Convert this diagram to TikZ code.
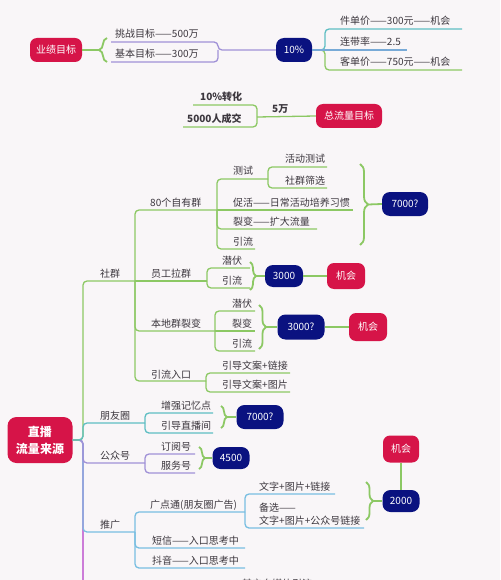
\documentclass[tikz,border=0pt]{standalone}
\usepackage{fontspec}
\setmainfont{Noto Sans CJK SC}
\usetikzlibrary{decorations.pathreplacing}
\definecolor{bg}{RGB}{249,246,248}
\definecolor{crim}{RGB}{214,20,72}
\definecolor{navyc}{RGB}{10,18,128}
\definecolor{lgreen}{RGB}{140,200,100}
\definecolor{lav}{RGB}{160,145,215}
\definecolor{tealc}{RGB}{95,190,195}
\definecolor{bluec}{RGB}{120,170,215}
\definecolor{skyc}{RGB}{120,190,225}
\definecolor{magc}{RGB}{180,60,200}
\definecolor{txt}{RGB}{60,55,62}
\begin{document}
\begin{tikzpicture}[x=1pt,y=-1pt,
  lbl/.style={anchor=base west, inner sep=0pt, text=txt, font=\fontsize{10}{12}\selectfont},
  blbl/.style={lbl, font=\fontsize{10}{12}\selectfont\bfseries},
  rbox/.style={fill=crim, text=white, rounded corners=7pt, inner sep=0pt, font=\fontsize{10}{12}\selectfont},
  nbox/.style={fill=navyc, text=white, rounded corners=8pt, inner sep=0pt, font=\fontsize{10}{12}\selectfont},
  ln/.style={line width=1.3pt, rounded corners=4pt},
  gl/.style={line width=1.8pt, lgreen},
  br/.style={line width=1.8pt, lgreen, decorate, decoration={brace, amplitude=#1}},
  br/.default=7pt]
\useasboundingbox (0,0) rectangle (500,580);
\fill[bg] (0,0) rectangle (500,580);
\clip (0,0) rectangle (500,580);

% ---------- top: 业绩目标 ----------
\node[rbox, minimum width=52pt, minimum height=24pt] (yj) at (56,50) {业绩目标};
\node[nbox, minimum width=36pt, minimum height=24pt] (p10) at (294,50) {10\%};
\node[lbl] (t1) at (115,38) {挑战目标——500万};
\node[lbl] (t2) at (115,58) {基本目标——300万};
\draw[br=8pt] (107,62) -- (107,38);
\draw[gl] (yj.east) -- (99,50);
\draw[ln, lav] (111,42) -- (218,42) -- (218,50) -- (p10.west);
\draw[ln, lav] (111,62) -- (218,62) -- (218,50);

\node[lbl] (t3) at (340,25) {件单价——300元——机会};
\node[lbl] (t4) at (340,46) {连带率——2.5};
\node[lbl] (t5) at (340,66) {客单价——750元——机会};
\draw[ln, tealc] (p10.east) -- (325,50) -- (325,29) -- (462,29);
\draw[ln, lgreen] (p10.east) -- (325,50) -- (325,70) -- (462,70);
\draw[ln, bluec] (p10.east) -- (407,50);

% ---------- 总流量目标 ----------
\node[rbox, minimum width=66pt, minimum height=24pt] (zl) at (349,116) {总流量目标};
\node[blbl] (t6) at (200,101) {10\%转化};
\node[blbl] (t7) at (187,123) {5000人成交};
\node[blbl] (t8) at (272,113) {5万};
\draw[ln, lgreen] (193,105) -- (257,105) -- (257,127) -- (183,127);
\draw[ln, lgreen] (257,117) -- (zl.west);

% ---------- root ----------
\node[fill=crim, text=white, rounded corners=9pt, inner sep=0pt, minimum width=65pt, minimum height=46pt,
      align=center, font=\fontsize{12}{17}\selectfont\bfseries] (root) at (40,440) {直播\\流量来源};

\draw[ln, magc] (root.east) -- (83,440) -- (83,600);
\draw[ln, skyc] (root.east) -- (83,440) -- (83,532) -- (135,532);
\draw[ln, lav] (root.east) -- (83,440) -- (83,463) -- (145,463);
\draw[ln, lgreen] (root.east) -- (83,440) -- (83,281) -- (135,281);
\draw[ln, tealc] (root.east) -- (83,440) -- (83,423) -- (145,423);

% ---------- 社群 ----------
\node[lbl] (sq) at (100,277) {社群};
\draw[ln, lgreen] (135,281) -- (135,210) -- (217,210);
\draw[ln, lgreen] (135,281) -- (207,281);
\draw[ln, lgreen] (135,281) -- (135,331) -- (215,331);
\draw[ln, lgreen] (135,281) -- (135,381) -- (206,381);

% 80个自有群
\node[lbl] (zy) at (150,206) {80个自有群};
\node[lbl] (cs) at (233,175) {测试};
\node[lbl] (hd) at (285,163) {活动测试};
\node[lbl] (sx) at (285,184) {社群筛选};
\node[lbl] (ch) at (233,206) {促活——日常活动培养习惯};
\node[lbl] (lb) at (233,225) {裂变——扩大流量};
\node[lbl] (yl1) at (233,245) {引流};
\draw[ln, lgreen] (217,210) -- (217,179) -- (268,179);
\draw[ln, lgreen] (268,179) -- (268,167) -- (327,167);
\draw[ln, lgreen] (268,179) -- (268,188) -- (327,188);
\draw[ln, lgreen] (217,210) -- (353,210);
\draw[ln, lgreen] (217,210) -- (217,229) -- (317,229);
\draw[ln, lgreen] (217,210) -- (217,249) -- (255,249);
\node[nbox, minimum width=46pt, minimum height=24pt] (n7000a) at (405,204) {7000?};
\draw[br=8pt] (360,164) -- (360,245);
\draw[gl] (368,204.5) -- (n7000a.west);

% 员工拉群
\node[lbl] (yg) at (151,277) {员工拉群};
\node[lbl] (qf1) at (222,264) {潜伏};
\node[lbl] (yl2) at (222,284) {引流};
\draw[ln, lgreen] (207,281) -- (207,268) -- (250,268);
\draw[ln, lgreen] (207,281) -- (207,288) -- (250,288);
\node[nbox, minimum width=38pt, minimum height=22pt] (n3000) at (284,276) {3000};
\node[rbox, minimum width=38pt, minimum height=26pt] (jh1) at (346,276) {机会};
\draw[br=6pt] (250,262) -- (250,290);
\draw[gl] (256,276) -- (n3000.west);
\draw[gl] (n3000.east) -- (jh1.west);

% 本地群裂变
\node[lbl] (bd) at (151,327) {本地群裂变};
\node[lbl] (qf2) at (232,307) {潜伏};
\node[lbl] (lb2) at (232,327) {裂变};
\node[lbl] (yl3) at (232,347) {引流};
\draw[ln, lgreen] (215,331) -- (215,311) -- (255,311);
\draw[ln, lgreen] (215,331) -- (255,331);
\draw[ln, lgreen] (215,331) -- (215,351) -- (255,351);
\node[nbox, minimum width=47pt, minimum height=25pt] (n3000q) at (301,327) {3000?};
\node[rbox, minimum width=38pt, minimum height=28pt] (jh2) at (368,327) {机会};
\draw[br=7pt] (259,305) -- (259,349);
\draw[gl] (266,327) -- (n3000q.west);
\draw[gl] (n3000q.east) -- (jh2.west);

% 引流入口
\node[lbl] (rk) at (151,378) {引流入口};
\node[lbl] (yd1) at (222,369) {引导文案+链接};
\node[lbl] (yd2) at (222,388) {引导文案+图片};
\draw[ln, lgreen] (206,381) -- (206,373) -- (290,373);
\draw[ln, lgreen] (206,381) -- (206,392) -- (290,392);

% ---------- 朋友圈 ----------
\node[lbl] (py) at (100,419) {朋友圈};
\node[lbl] (zq) at (161,409) {增强记忆点};
\node[lbl] (zb) at (161,429) {引导直播间};
\draw[ln, tealc] (145,423) -- (145,413) -- (213,413);
\draw[ln, tealc] (145,423) -- (145,433) -- (213,433);
\node[nbox, minimum width=47pt, minimum height=24pt] (n7000b) at (260,417) {7000?};
\draw[br=6pt] (221,406) -- (221,428);
\draw[gl] (227,417) -- (n7000b.west);

% ---------- 公众号 ----------
\node[lbl] (gz) at (100,459) {公众号};
\node[lbl] (dy) at (161,450) {订阅号};
\node[lbl] (fw) at (161,469) {服务号};
\draw[ln, lav] (145,463) -- (145,454) -- (195,454);
\draw[ln, lav] (145,463) -- (145,473) -- (195,473);
\node[nbox, minimum width=37pt, minimum height=22pt] (n4500) at (231,458) {4500};
\draw[br=6pt] (199,447) -- (199,469);
\draw[gl] (205,458) -- (n4500.west);

% ---------- 推广 ----------
\node[lbl] (tg) at (100,528) {推广};
\node[lbl] (gd) at (150,508) {广点通(朋友圈广告)};
\node[lbl] (wz1) at (259,490) {文字+图片+链接};
\node[lbl] (bx) at (259,511) {备选——};
\node[lbl] (wz2) at (259,524) {文字+图片+公众号链接};
\node[lbl] (dx) at (152,544) {短信——入口思考中};
\node[lbl] (dyin) at (152,564) {抖音——入口思考中};
\draw[ln, skyc] (135,532) -- (135,512) -- (245,512);
\draw[ln, skyc] (135,532) -- (135,548) -- (245,548);
\draw[ln, skyc] (135,532) -- (135,568) -- (245,568);
\draw[ln, skyc] (245,512) -- (245,494) -- (335,494);
\draw[ln, skyc] (245,512) -- (245,528) -- (364,528);
\node[nbox, minimum width=37pt, minimum height=22pt] (n2000) at (401,501) {2000};
\node[rbox, minimum width=36pt, minimum height=27pt] (jh3) at (401,449) {机会};
\draw[br=7pt] (366,482) -- (366,520);
\draw[gl] (373,501) -- (n2000.west);
\draw[gl] (n2000.north) -- (jh3.south);

% cut-off bottom label
\node[lbl] (qt) at (242,587) {其它自媒体引流};
\end{tikzpicture}
\end{document}
